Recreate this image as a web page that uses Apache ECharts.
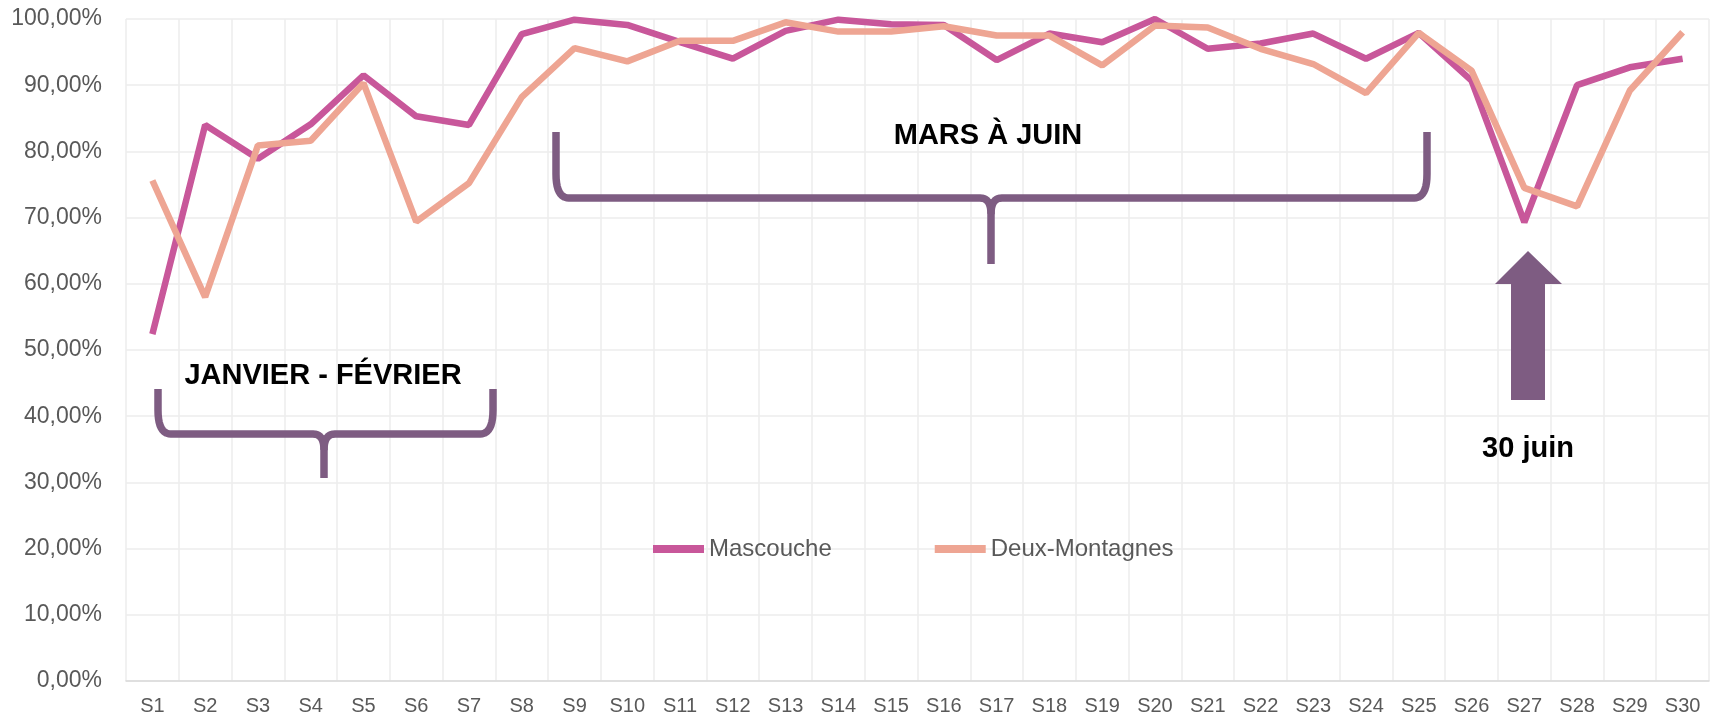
<!DOCTYPE html>
<html>
<head>
<meta charset="utf-8">
<script src="https://cdn.jsdelivr.net/npm/echarts@6/dist/echarts.min.js"></script>
<style>
  html, body { margin: 0; padding: 0; background: #fff; }
  #chart { width: 1719px; height: 718px; }
</style>
</head>
<body>
<div id="chart"></div>
<script>
// semaines
const weeks = ['S1', 'S2', 'S3', 'S4', 'S5', 'S6', 'S7', 'S8', 'S9', 'S10',
  'S11', 'S12', 'S13', 'S14', 'S15', 'S16', 'S17', 'S18', 'S19', 'S20',
  'S21', 'S22', 'S23', 'S24', 'S25', 'S26', 'S27', 'S28', 'S29', 'S30'];

// taux (%)
const mascouche = [52.4, 84.0, 78.9, 84.1, 91.5, 85.3, 84.0, 97.7, 99.9, 99.1,
  96.5, 94.0, 98.2, 99.9, 99.2, 99.1, 93.8, 97.8, 96.5, 100.0,
  95.5, 96.3, 97.8, 94.0, 97.9, 90.7, 69.3, 90.0, 92.7, 94.0];
const deuxMontagnes = [75.6, 58.0, 80.9, 81.6, 90.3, 69.4, 75.2, 88.2, 95.6, 93.6,
  96.7, 96.7, 99.5, 98.1, 98.1, 98.9, 97.5, 97.5, 93.0, 99.0,
  98.7, 95.5, 93.2, 88.8, 97.9, 92.2, 74.5, 71.7, 89.2, 98.0];

const FONT = '"Liberation Sans", Arial, sans-serif';
const PURPLE = '#7E5C82';

// courbe quadratique échantillonnée
function quad(p0, c, p1) {
  const pts = [];
  for (let i = 0; i <= 10; i++) {
    const t = i / 10;
    const a = (1 - t) * (1 - t), b = 2 * (1 - t) * t, d = t * t;
    pts.push([a * p0[0] + b * c[0] + d * p1[0], a * p0[1] + b * c[1] + d * p1[1]]);
  }
  return pts;
}

// accolade horizontale, pointe vers le bas
function brace(xl, xr, xm, yTop, yBar, yTip) {
  const left = [[xl, yTop]]
    .concat(quad([xl, yBar - 24], [xl, yBar], [xl + 13, yBar]))
    .concat(quad([xm - 11, yBar], [xm, yBar], [xm, yBar + 16]))
    .concat([[xm, yTip]]);
  const right = quad([xm, yBar + 16], [xm, yBar], [xm + 11, yBar])
    .concat(quad([xr - 13, yBar], [xr, yBar], [xr, yBar - 24]))
    .concat([[xr, yTop]]);
  const style = { stroke: PURPLE, lineWidth: 7.5, fill: null, lineJoin: 'round' };
  return [
    { type: 'polyline', shape: { points: left }, style: style, z: 10 },
    { type: 'polyline', shape: { points: right }, style: style, z: 10 }
  ];
}

function label(text, x, y) {
  return {
    type: 'text', x: x, y: y, z: 11,
    style: {
      text: text, font: 'bold 29px ' + FONT, fill: '#000',
      textAlign: 'center', textVerticalAlign: 'middle'
    }
  };
}

const chart = echarts.init(document.getElementById('chart'));

const option = {
  animation: false,
  backgroundColor: '#fff',
  grid: { left: 126, right: 10, top: 19, bottom: 37 },
  legend: {
    left: 653,
    top: 537,
    padding: 0,
    itemGap: 103,
    itemWidth: 51,
    itemHeight: 8,
    icon: 'rect',
    textStyle: { fontFamily: FONT, fontSize: 24, color: '#595959' },
    data: ['Mascouche', 'Deux-Montagnes']
  },
  xAxis: {
    type: 'category',
    data: weeks,
    boundaryGap: true,
    axisLine: { lineStyle: { color: '#D9D9D9', width: 1.5 } },
    axisTick: { show: false },
    axisLabel: { margin: 15, fontFamily: FONT, fontSize: 20, color: '#595959' },
    splitLine: { show: true, lineStyle: { color: '#EDEDED', width: 1.5 } }
  },
  yAxis: {
    type: 'value',
    min: 0,
    max: 100,
    interval: 10,
    axisLine: { show: false },
    axisTick: { show: false },
    axisLabel: {
      margin: 24, fontFamily: FONT, fontSize: 23, color: '#595959',
      formatter: v => v.toFixed(2).replace('.', ',') + '%'
    },
    splitLine: { lineStyle: { color: '#EDEDED', width: 1.5 } }
  },
  series: [
    {
      name: 'Mascouche',
      type: 'line',
      data: mascouche,
      symbol: 'none',
      color: '#C8579A',
      lineStyle: { width: 6.5, color: '#C8579A' }
    },
    {
      name: 'Deux-Montagnes',
      type: 'line',
      data: deuxMontagnes,
      symbol: 'none',
      color: '#EEA593',
      lineStyle: { width: 6.5, color: '#EEA593' }
    }
  ],
  graphic: [].concat(
    brace(158, 493, 324, 389, 434, 478),
    brace(556, 1427, 991, 132, 198, 264),
    [
      {
        type: 'polygon', z: 10,
        shape: { points: [[1528, 251], [1562, 284], [1545, 284], [1545, 400], [1511, 400], [1511, 284], [1495, 284]] },
        style: { fill: PURPLE }
      },
      label('JANVIER - FÉVRIER', 323, 376),
      label('MARS À JUIN', 988, 136),
      label('30 juin', 1528, 449)
    ]
  )
};

chart.setOption(option);
</script>
</body>
</html>
